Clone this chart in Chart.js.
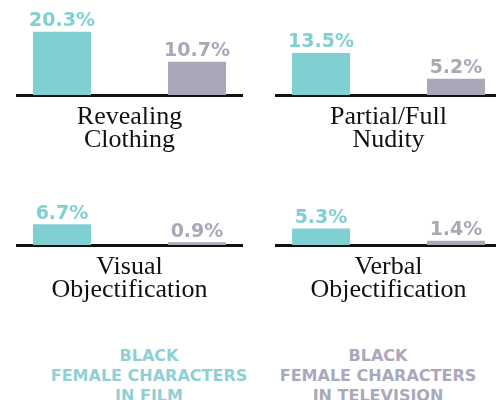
<!DOCTYPE html>
<html>
<head>
<meta charset="utf-8">
<script src="https://cdn.jsdelivr.net/npm/chart.js@4"></script>
<style>
  html, body { margin: 0; padding: 0; background: #fff; overflow: hidden; }
  body { width: 496px; height: 400px; position: relative; }
  .panel { position: absolute; width: 259px; height: 160px; }
  .legend {
    position: absolute; top: 346px; width: 240px; text-align: center;
    font-family: "DejaVu Sans", sans-serif; font-weight: bold;
    font-size: 16px; line-height: 20px;
  }
</style>
</head>
<body>
<div class="panel" style="left:0;top:0"><canvas id="c0"></canvas></div>
<div class="panel" style="left:259px;top:0"><canvas id="c1"></canvas></div>
<div class="panel" style="left:0;top:150px"><canvas id="c2"></canvas></div>
<div class="panel" style="left:259px;top:150px"><canvas id="c3"></canvas></div>
<div class="legend" id="leg0" style="left:29px"></div>
<div class="legend" id="leg1" style="left:258px"></div>
<script>
const categories = [
  ["Revealing", "Clothing"],
  ["Partial/Full", "Nudity"],
  ["Visual", "Objectification"],
  ["Verbal", "Objectification"],
];
const filmValues = [20.3, 13.5, 6.7, 5.3];
const tvValues = [10.7, 5.2, 0.9, 1.4];
const seriesNames = [
  ["BLACK", "FEMALE CHARACTERS", "IN FILM"],
  ["BLACK", "FEMALE CHARACTERS", "IN TELEVISION"],
];
const seriesColors = ["#80d0d3", "#aaa7b9"];

// value labels on top of each bar
const valueLabels = {
  id: "valueLabels",
  afterDatasetsDraw(chart) {
    const ctx = chart.ctx;
    ctx.save();
    ctx.font = "bold 19px 'DejaVu Sans', sans-serif";
    ctx.textAlign = "center";
    ctx.textBaseline = "bottom";
    chart.data.datasets.forEach((ds, i) => {
      chart.getDatasetMeta(i).data.forEach((bar, j) => {
        ctx.fillStyle = ds.backgroundColor;
        ctx.fillText(ds.data[j].toFixed(1) + "%", bar.x, bar.y - 1);
      });
    });
    ctx.restore();
  },
};

categories.forEach((lines, k) => {
  new Chart(document.getElementById("c" + k), {
    type: "bar",
    data: {
      labels: [lines.join(" ")],
      datasets: [
        { label: seriesNames[0].join(" "), data: [filmValues[k]], backgroundColor: seriesColors[0] },
        { label: seriesNames[1].join(" "), data: [tvValues[k]], backgroundColor: seriesColors[1] },
      ],
    },
    options: {
      responsive: true,
      maintainAspectRatio: false,
      animation: false,
      categoryPercentage: 1.2,
      barPercentage: 0.43,
      layout: { padding: { left: 17, right: 17, top: 0, bottom: 0 } },
      scales: {
        x: {
          grid: { display: false, drawTicks: false },
          border: { display: true, color: "#111", width: 3 },
          ticks: { display: false },
          title: {
            display: true,
            text: lines,
            color: "#111",
            font: { family: "'Liberation Serif', serif", size: 26, lineHeight: "23px" },
            padding: { top: 10.5, bottom: 8.5 },
          },
        },
        y: { display: false, min: 0, max: 30.5 },
      },
      plugins: {
        legend: { display: false },
        tooltip: { enabled: false },
      },
    },
    plugins: [valueLabels],
  });
});

seriesNames.forEach((lines, i) => {
  const el = document.getElementById("leg" + i);
  el.style.color = i === 0 ? "#8fd0d5" : "#aaa8ba";
  el.innerHTML = lines.join("<br>");
});
</script>
</body>
</html>
